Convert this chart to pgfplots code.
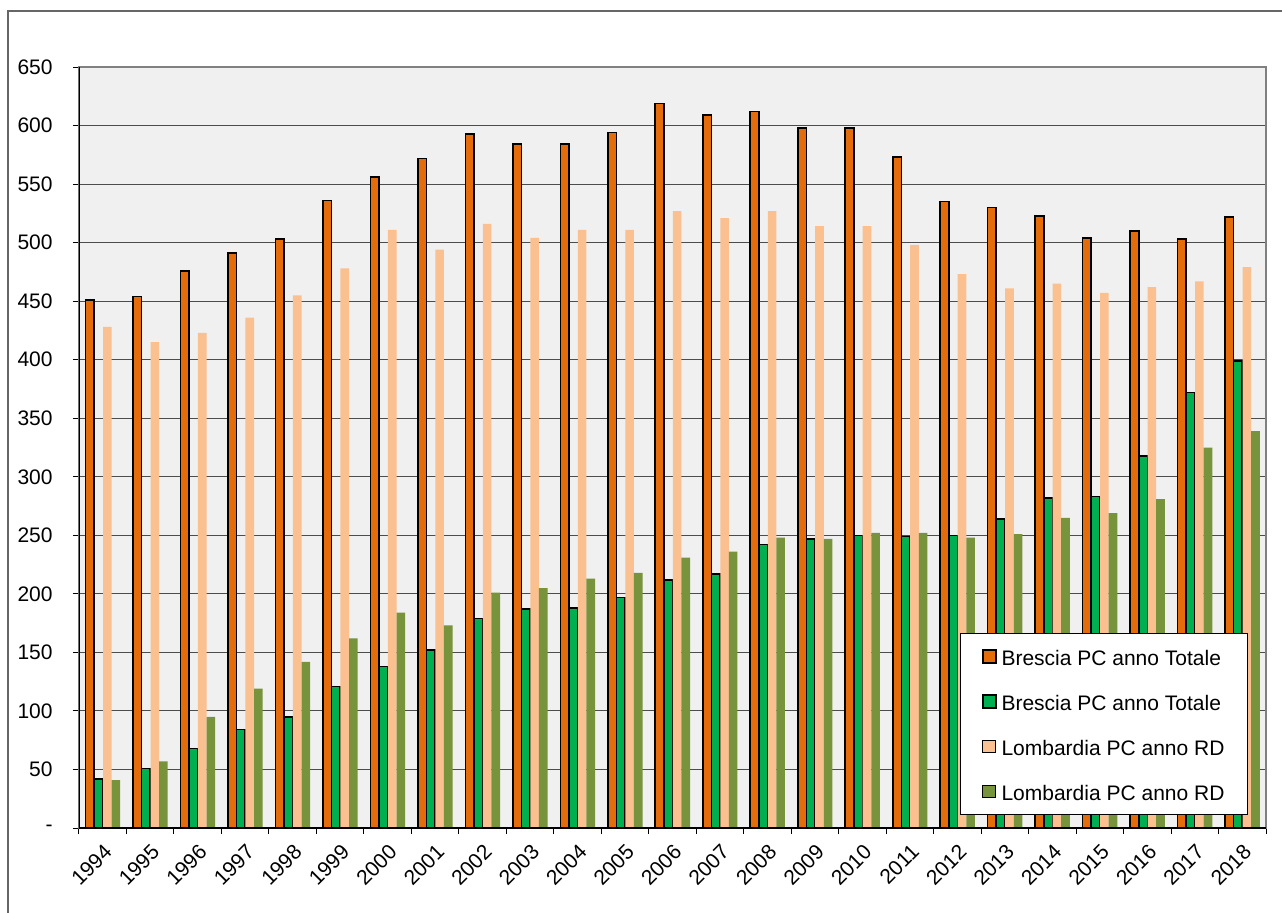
\documentclass[border=0pt]{standalone}
\usepackage{pgfplots}
\pgfplotsset{compat=1.18}
\usepackage{fontspec}
\setmainfont{Liberation Sans}

\definecolor{bsTot}{HTML}{E46C0A}
\definecolor{bsRD}{HTML}{00B050}
\definecolor{lmTot}{HTML}{FAC090}
\definecolor{lmRD}{HTML}{77933C}
\definecolor{plotbg}{HTML}{F0F0F0}

% Brescia / Lombardia pro capite per anno (0 = 1994 ... 24 = 2018)
\pgfplotsset{
  sq/.style={legend image code/.code={\draw[##1] (0pt,-3.2pt) rectangle (6.6pt,3.2pt); \path (8pt,0pt);}},
}

\begin{document}
\begin{tikzpicture}[x=1pt,y=1pt,font=\fontsize{10.5}{12.6}\selectfont]
\useasboundingbox (0,0) rectangle (641,-456);
\draw[line width=0.6pt, black!60] (4,-480) -- (4,-5.5) -- (680,-5.5);
\begin{axis}[
    at={(39.5pt,-414pt)}, anchor=south west,
    width=593.5pt, height=380.5pt, scale only axis,
    xmin=-0.5, xmax=24.5,
    ymin=0, ymax=650,
    xtick={0,...,24},
    xticklabels={1994,1995,1996,1997,1998,1999,2000,2001,2002,2003,2004,2005,2006,2007,2008,2009,2010,2011,2012,2013,2014,2015,2016,2017,2018},
    minor xtick={-0.5,0.5,...,24.5},
    major x tick style={draw=none},
    xtick pos=left, ytick pos=left,
    ytick={0,50,...,650},
    yticklabels={-,50,100,150,200,250,300,350,400,450,500,550,600,650},
    tick align=outside,
    major tick length=3pt, minor tick length=3pt,
    tick style={black, line width=0.5pt},
    xticklabel style={rotate=45, anchor=east, inner sep=1pt, xshift=-2pt, yshift=-7pt},
    yticklabel style={inner sep=0pt, xshift=-10pt},
    ymajorgrids,
    major grid style={black!70, line width=0.5pt},
    axis line style={draw=gray, line width=0.6pt},
    axis background/.style={fill=plotbg},
    legend style={draw=black, fill=white, line width=0.5pt,
      at={(1,0)}, anchor=south east, xshift=-9pt, yshift=6.5pt,
      inner xsep=10.5pt, inner ysep=6pt, row sep=11.5pt,
      legend cell align=left,
      nodes={inner sep=1pt, text height=9pt, text depth=0pt}},
]
\addplot[ybar, bar width=4.3pt, bar shift=-6.45pt, fill=bsTot, draw=black, line width=0.8pt, sq] coordinates {
 (0,451) (1,454) (2,476) (3,491) (4,503) (5,536) (6,556) (7,572) (8,593) (9,584)
 (10,584) (11,594) (12,619) (13,609) (14,612) (15,598) (16,598) (17,573) (18,535) (19,530)
 (20,523) (21,504) (22,510) (23,503) (24,522)
};
\addplot[ybar, bar width=4.3pt, bar shift=-2.15pt, fill=bsRD, draw=black, line width=0.8pt, sq] coordinates {
 (0,42) (1,51) (2,68) (3,84) (4,95) (5,121) (6,138) (7,152) (8,179) (9,187)
 (10,188) (11,197) (12,212) (13,217) (14,242) (15,247) (16,250) (17,249) (18,250) (19,264)
 (20,282) (21,283) (22,318) (23,372) (24,399)
};
\addplot[ybar, bar width=4.3pt, bar shift=2.3pt, fill=lmTot, draw=none, sq] coordinates {
 (0,428) (1,415) (2,423) (3,436) (4,455) (5,478) (6,511) (7,494) (8,516) (9,504)
 (10,511) (11,511) (12,527) (13,521) (14,527) (15,514) (16,514) (17,498) (18,473) (19,461)
 (20,465) (21,457) (22,462) (23,467) (24,479)
};
\addplot[ybar, bar width=4.3pt, bar shift=6.6pt, fill=lmRD, draw=none, sq] coordinates {
 (0,41) (1,57) (2,95) (3,119) (4,142) (5,162) (6,184) (7,173) (8,201) (9,205)
 (10,213) (11,218) (12,231) (13,236) (14,248) (15,247) (16,252) (17,252) (18,248) (19,251)
 (20,265) (21,269) (22,281) (23,325) (24,339)
};
\draw[black, line width=0.6pt] (rel axis cs:0,1) -- (rel axis cs:0,0) -- (rel axis cs:1,0);
\legend{Brescia PC anno Totale,Brescia PC anno Totale,Lombardia PC anno RD,Lombardia PC anno RD}
\end{axis}
\end{tikzpicture}
\end{document}
